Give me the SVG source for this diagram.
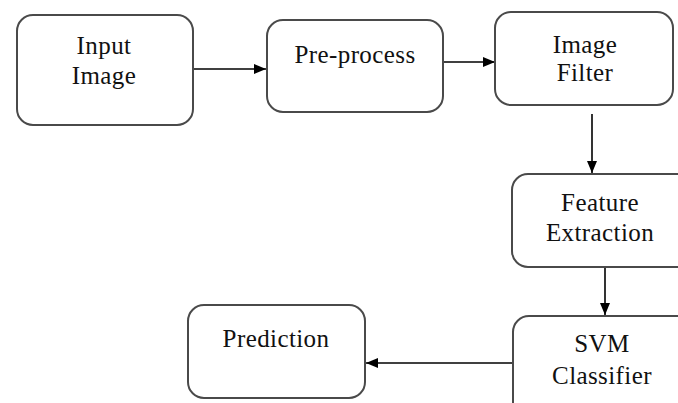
<svg xmlns="http://www.w3.org/2000/svg" width="678" height="403" viewBox="0 0 678 403">
<defs>
<style>
.box{fill:#fff;stroke:#4a4a4a;stroke-width:2}
.t{font-family:"Liberation Serif","Times New Roman",serif;font-size:25px;letter-spacing:0.4px;fill:#111;text-anchor:middle}
.c{stroke:#000;stroke-width:1.6;fill:none;marker-end:url(#ah)}
</style>
<marker id="ah" markerWidth="12" markerHeight="10" refX="12" refY="5" orient="auto" markerUnits="userSpaceOnUse">
<path d="M0,0 L12,5 L0,10 Z" fill="#000"/>
</marker>
</defs>
<rect width="678" height="403" fill="#fff"/>
<g id="connectors">
<line class="c" x1="193" y1="69" x2="266" y2="69"/>
<line class="c" x1="443" y1="62" x2="495" y2="62"/>
<line class="c" x1="592" y1="114" x2="592" y2="173"/>
<line class="c" x1="605" y1="267" x2="605" y2="315"/>
<line class="c" x1="513" y1="363" x2="366" y2="363"/>
</g>
<g id="input-image">
<rect class="box" x="17" y="15" width="176" height="110" rx="16"/>
<text class="t" x="104" y="54">Input</text>
<text class="t" x="104" y="84">Image</text>
</g>
<g id="pre-process">
<rect class="box" x="267" y="20" width="176" height="92" rx="16"/>
<text class="t" x="355" y="63">Pre-process</text>
</g>
<g id="image-filter">
<rect class="box" x="495" y="12" width="178" height="93" rx="16"/>
<text class="t" x="585" y="53">Image</text>
<text class="t" x="585" y="81">Filter</text>
</g>
<g id="feature-extraction">
<rect class="box" x="512" y="174" width="190" height="93" rx="16"/>
<text class="t" x="600" y="211">Feature</text>
<text class="t" x="600" y="241">Extraction</text>
</g>
<g id="svm-classifier">
<rect class="box" x="513" y="316" width="190" height="110" rx="16"/>
<text class="t" x="602" y="352">SVM</text>
<text class="t" x="602" y="384">Classifier</text>
</g>
<g id="prediction">
<rect class="box" x="188" y="305" width="177" height="93" rx="16"/>
<text class="t" x="276" y="347">Prediction</text>
</g>
</svg>
